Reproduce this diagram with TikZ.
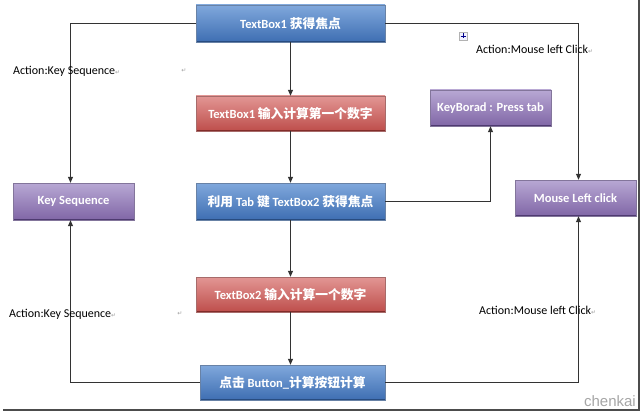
\documentclass[tikz,border=0pt]{standalone}
\usepackage{fontspec}
\setmainfont{Carlito}
\newfontfamily\cjk[Scale=1.02]{Noto Sans CJK SC}
\newfontfamily\symfont{DejaVu Sans}
\newfontfamily\markfont{Liberation Sans}
\usetikzlibrary{arrows.meta}
\usetikzlibrary{calc}
\definecolor{blutop}{RGB}{128,168,220}
\definecolor{blubot}{RGB}{62,110,178}
\definecolor{bluline}{RGB}{40,76,128}
\definecolor{redtop}{RGB}{226,150,148}
\definecolor{redbot}{RGB}{190,78,75}
\definecolor{redline}{RGB}{130,44,42}
\definecolor{purtop}{RGB}{184,168,212}
\definecolor{purbot}{RGB}{128,102,166}
\definecolor{purline}{RGB}{78,58,112}
\colorlet{wire}{black!80}
\newcommand{\zh}[1]{{\cjk #1}}
\newcommand{\ret}{{\symfont\color{gray!75}\fontsize{6}{6}\selectfont ↵}}

\tikzset{
    box/.style={rectangle, draw=#1line!70, top color=#1top, bottom color=#1bot,
        text=white, inner sep=2pt, minimum width=121pt, minimum height=36pt,
        font=\bfseries\fontsize{12.5}{14}\selectfont,
        path picture={\draw[#1line, line width=2.5pt]
            (path picture bounding box.south west) -- (path picture bounding box.south east);}},
    link/.style={draw=wire, line width=0.8pt, -{Triangle[length=6pt,width=5pt]}},
    lbl/.style={font=\fontsize{12}{14}\selectfont, inner sep=0pt},
}

\begin{document}
\begin{tikzpicture}[x=1pt,y=-1pt]
        \useasboundingbox (0,0) rectangle (644,417);
        \fill[white] (0,0) rectangle (644,417);
        % boxes
        \node[box=blu, minimum width=189pt, minimum height=37pt] (focusone) at (290.5,23.5) {TextBox1 \zh{获得焦点}};
        \node[box=red, minimum width=189pt, minimum height=35pt] (inputone) at (290.5,113.5) {TextBox1 \zh{输入计算第一个数字}};
        \node[box=blu, minimum width=189pt, minimum height=37pt] (tabkey) at (290.5,201.5) {\zh{利用} Tab \zh{键} TextBox2 \zh{获得焦点}};
        \node[box=red, minimum width=189pt, minimum height=35pt] (inputtwo) at (290.5,294.5) {TextBox2 \zh{输入计算一个数字}};
        \node[box=blu, minimum width=185pt, minimum height=35pt] (calcbtn) at (292.5,382.5) {\zh{点击} Button\_\zh{计算按钮计算}};
        \node[box=pur, minimum height=37pt] (keyseq) at (73.5,201.5) {Key Sequence};
        \node[box=pur] (keyboard) at (490.5,108) {KeyBorad : Press tab};
        \node[box=pur] (mouse) at (575.5,198) {Mouse Left click};
        % connectors
        \draw[link] (focusone) -- (inputone);
        \draw[link] (inputone) -- (tabkey);
        \draw[link] (tabkey) -- (inputtwo);
        \draw[link] (inputtwo) -- (calcbtn.north -| inputtwo.south);
        \draw[link] (focusone.west) -| ([xshift=-3pt]keyseq.north);
        \draw[link] (focusone.east) -| ([xshift=3pt]mouse.north);
        \draw[link] (tabkey.east) -| (keyboard.south);
        \draw[link] (calcbtn.west) -| ([xshift=-3pt]keyseq.south);
        \draw[link] (calcbtn.east) -| ([xshift=3pt]mouse.south);
        % labels
        \node[lbl, anchor=west] (seqtop) at (13,71) {Action:Key Sequence\ret};
        \node[lbl] (rettop) at (184,71) {\ret};
        \node[lbl, anchor=west] (mousetop) at (476,49) {Action:Mouse left Click\ret};
        \node[lbl, anchor=west] (seqbot) at (9,314) {Action:Key Sequence\ret};
        \node[lbl] (retbot) at (180,314) {\ret};
        \node[lbl, anchor=west] (mousebot) at (479,310) {Action:Mouse left Click\ret};
        % table handle
        \draw[gray!60, fill=blue!6] (459,32) rectangle (467,40);
        \draw[blue!55!black, line width=0.6pt] (460.5,36) -- (465.5,36) (463,33.5) -- (463,38.5);
        % frame and signature
        \draw[black!70, line width=2pt] (3,410) -- (639,410) -- (639,0);
        \node[anchor=east, font=\markfont\fontsize{15}{16}\selectfont, text=gray!70, inner sep=0pt] (sign) at (636,401) {chenkai};
    \end{tikzpicture}
\end{document}
